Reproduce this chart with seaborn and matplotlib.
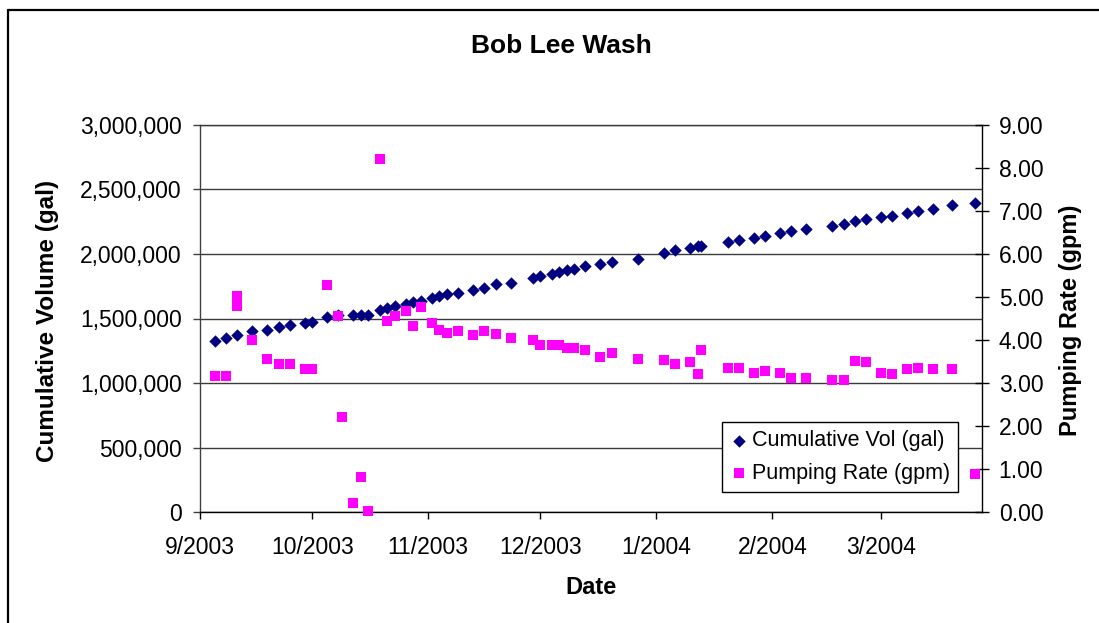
import matplotlib
matplotlib.use("Agg")
import matplotlib.pyplot as plt
from matplotlib.lines import Line2D
from matplotlib.ticker import FuncFormatter, FixedLocator
import seaborn as sns
import pandas as pd

# ---------------- data ----------------
vol_dates = ["2003-09-05", "2003-09-08", "2003-09-11", "2003-09-15", "2003-09-19", "2003-09-22",
             "2003-09-25", "2003-09-29", "2003-10-01", "2003-10-05", "2003-10-08", "2003-10-12",
             "2003-10-14", "2003-10-16", "2003-10-19", "2003-10-21", "2003-10-23", "2003-10-26",
             "2003-10-28", "2003-10-30", "2003-11-02", "2003-11-04", "2003-11-06", "2003-11-09",
             "2003-11-13", "2003-11-16", "2003-11-19", "2003-11-23", "2003-11-29", "2003-12-01",
             "2003-12-04", "2003-12-06", "2003-12-08", "2003-12-10", "2003-12-13", "2003-12-17",
             "2003-12-20", "2003-12-27", "2004-01-03", "2004-01-06", "2004-01-10", "2004-01-12",
             "2004-01-13", "2004-01-20", "2004-01-23", "2004-01-27", "2004-01-30", "2004-02-03",
             "2004-02-06", "2004-02-10", "2004-02-17", "2004-02-20", "2004-02-23", "2004-02-26",
             "2004-03-01", "2004-03-04", "2004-03-08", "2004-03-11", "2004-03-15", "2004-03-20",
             "2004-03-26"]
cumulative_vol = [1326000, 1351000, 1373000, 1400000, 1407000, 1431000, 1446000, 1462000, 1473000,
                  1513000, 1527000, 1529000, 1530000, 1531000, 1565000, 1579000, 1594000, 1614000,
                  1625000, 1638000, 1660000, 1675000, 1687000, 1701000, 1722000, 1738000, 1766000,
                  1777000, 1817000, 1832000, 1846000, 1860000, 1875000, 1885000, 1904000, 1924000,
                  1937000, 1964000, 2005000, 2030000, 2050000, 2059000, 2060000, 2096000, 2111000,
                  2126000, 2136000, 2162000, 2178000, 2192000, 2216000, 2230000, 2255000, 2268000,
                  2284000, 2296000, 2321000, 2334000, 2351000, 2377000, 2393000]

rate_dates = ["2003-09-05", "2003-09-08", "2003-09-11", "2003-09-11", "2003-09-15", "2003-09-19",
              "2003-09-22", "2003-09-25", "2003-09-29", "2003-10-01", "2003-10-05", "2003-10-08",
              "2003-10-09", "2003-10-12", "2003-10-14", "2003-10-16", "2003-10-19", "2003-10-21",
              "2003-10-23", "2003-10-26", "2003-10-28", "2003-10-30", "2003-11-02", "2003-11-04",
              "2003-11-06", "2003-11-09", "2003-11-13", "2003-11-16", "2003-11-19", "2003-11-23",
              "2003-11-29", "2003-12-01", "2003-12-04", "2003-12-06", "2003-12-08", "2003-12-10",
              "2003-12-13", "2003-12-17", "2003-12-20", "2003-12-27", "2004-01-03", "2004-01-06",
              "2004-01-10", "2004-01-12", "2004-01-13", "2004-01-20", "2004-01-23", "2004-01-27",
              "2004-01-30", "2004-02-03", "2004-02-06", "2004-02-10", "2004-02-17", "2004-02-20",
              "2004-02-23", "2004-02-26", "2004-03-01", "2004-03-04", "2004-03-08", "2004-03-11",
              "2004-03-15", "2004-03-20", "2004-03-26"]
pumping_rate = [3.17, 3.17, 5.03, 4.79, 4.00, 3.56, 3.44, 3.44, 3.32, 3.32, 5.28, 4.56, 2.21, 0.21,
                0.81, 0.02, 8.22, 4.44, 4.56, 4.68, 4.32, 4.76, 4.40, 4.23, 4.16, 4.21, 4.12, 4.21,
                4.13, 4.05, 4.00, 3.89, 3.89, 3.89, 3.82, 3.82, 3.76, 3.60, 3.69, 3.56, 3.53, 3.44,
                3.48, 3.20, 3.76, 3.36, 3.36, 3.24, 3.28, 3.24, 3.12, 3.12, 3.08, 3.08, 3.52, 3.48,
                3.24, 3.20, 3.32, 3.35, 3.32, 3.32, 0.89]

month_ticks = ["2003-09-01", "2003-10-01", "2003-11-01", "2003-12-01", "2004-01-01",
               "2004-02-01", "2004-03-01"]
month_labels = ["9/2003", "10/2003", "11/2003", "12/2003", "1/2004", "2/2004", "3/2004"]
x_range = ["2003-09-01", "2004-03-28"]

vol_ticks = [0, 500000, 1000000, 1500000, 2000000, 2500000, 3000000]
rate_ticks = [0, 1, 2, 3, 4, 5, 6, 7, 8, 9]

title = "Bob Lee Wash"
x_title = "Date"
y_title = "Cumulative Volume (gal)"
y2_title = "Pumping Rate (gpm)"
vol_label = "Cumulative Vol (gal)"
rate_label = "Pumping Rate (gpm)"

# ---------------- style ----------------
sns.set_style("white")
plt.rcParams["font.family"] = ["Liberation Sans", "DejaVu Sans"]
plt.rcParams["text.color"] = "black"
plt.rcParams["axes.labelcolor"] = "black"
plt.rcParams["xtick.color"] = "black"
plt.rcParams["ytick.color"] = "black"

W, H = 1099, 623
fig = plt.figure(figsize=(W / 100, H / 100), dpi=100)
fig.patch.set_facecolor("white")

L, R, T, B = 200, 982, 125, 512
ax = fig.add_axes([L / W, 1 - B / H, (R - L) / W, (B - T) / H])
ax2 = ax.twinx()

vol_df = pd.DataFrame({"date": pd.to_datetime(vol_dates), "vol": cumulative_vol})
rate_df = pd.DataFrame({"date": pd.to_datetime(rate_dates), "rate": pumping_rate})

sns.scatterplot(data=vol_df, x="date", y="vol", ax=ax, marker="D", color="#000080",
                s=40, linewidth=0, label=vol_label, legend=False, zorder=3)
sns.scatterplot(data=rate_df, x="date", y="rate", ax=ax2, marker="s", color="#FF00FF",
                s=54, linewidth=0, label=rate_label, legend=False, zorder=3)
for coll in ax2.collections:
    coll.set_clip_on(False)

ax.set_xlim(pd.Timestamp(x_range[0]), pd.Timestamp(x_range[1]))
ax.set_ylim(0, 3000000)
ax2.set_ylim(0, 9)

ax.xaxis.set_major_locator(FixedLocator([matplotlib.dates.date2num(pd.Timestamp(d)) for d in month_ticks]))
ax.set_xticklabels(month_labels)
ax.set_yticks(vol_ticks)
ax.yaxis.set_major_formatter(FuncFormatter(lambda v, p: f"{int(v):,}"))
ax2.set_yticks(rate_ticks)
ax2.yaxis.set_major_formatter(FuncFormatter(lambda v, p: f"{v:.2f}"))

ax.set_xlabel("")
ax.set_ylabel("")
ax2.set_ylabel("")

grid_c = "#3a3a3a"
ax.grid(axis="y", color=grid_c, linewidth=1.0)
ax.grid(axis="x", visible=False)
ax.set_axisbelow(True)

for s in ["left", "bottom", "top"]:
    ax.spines[s].set_visible(True)
ax.spines["right"].set_visible(False)
ax.spines["left"].set_color("#404040")
ax.spines["bottom"].set_color("black")
ax.spines["top"].set_color(grid_c)
for sp in ax.spines.values():
    sp.set_linewidth(1.0)
for s in ["left", "bottom", "top"]:
    ax2.spines[s].set_visible(False)
ax2.spines["right"].set_visible(True)
ax2.spines["right"].set_color("black")
ax2.spines["right"].set_linewidth(1.0)

ax.tick_params(axis="y", direction="out", length=5, width=1, color="#404040",
               labelsize=16.5, pad=8, left=True, labelcolor="black")
ax.tick_params(axis="x", direction="out", length=5, width=1, color="black",
               labelsize=16.5, pad=12, bottom=True, labelcolor="black")
ax2.tick_params(axis="y", direction="inout", length=10, width=1, color="black",
                labelsize=16.5, pad=7, right=True, labelcolor="black")

# titles
fig.text(561 / W, 1 - 46 / H, title, ha="center", va="center", fontsize=19,
         fontweight="bold", color="black")
fig.text(591 / W, 1 - 587 / H, x_title, ha="center", va="center", fontsize=17,
         fontweight="bold", color="black")
fig.text(48 / W, 1 - 321 / H, y_title, ha="center", va="center", rotation=90,
         fontsize=17.5, fontweight="bold", color="black")
fig.text(1070 / W, 1 - 320 / H, y2_title, ha="center", va="center", rotation=90,
         fontsize=17, fontweight="bold", color="black")

# legend
h1, l1 = ax.get_legend_handles_labels()
h2, l2 = ax2.get_legend_handles_labels()
leg = ax2.legend(h1 + h2, l1 + l2, loc="upper left",
                 bbox_to_anchor=(722 / W, 1 - 422 / H), bbox_transform=fig.transFigure,
                 borderaxespad=0, fontsize=15.5, frameon=True, fancybox=False, shadow=False,
                 framealpha=1, edgecolor="black", borderpad=0.38, handlelength=0.8,
                 handletextpad=0.2, labelspacing=0.55, markerscale=1.0)
leg.get_frame().set_linewidth(1.0)
for t in leg.get_texts():
    t.set_color("black")
leg.set_zorder(10)

# outer chart-area border (left and top visible)
fig.add_artist(Line2D([8 / W, 8 / W], [0, 1 - 10 / H], transform=fig.transFigure,
                      color="black", linewidth=1.6))
fig.add_artist(Line2D([8 / W, 1], [1 - 10 / H, 1 - 10 / H], transform=fig.transFigure,
                      color="black", linewidth=1.6))

fig.savefig("out.png", dpi=100, facecolor="white")
